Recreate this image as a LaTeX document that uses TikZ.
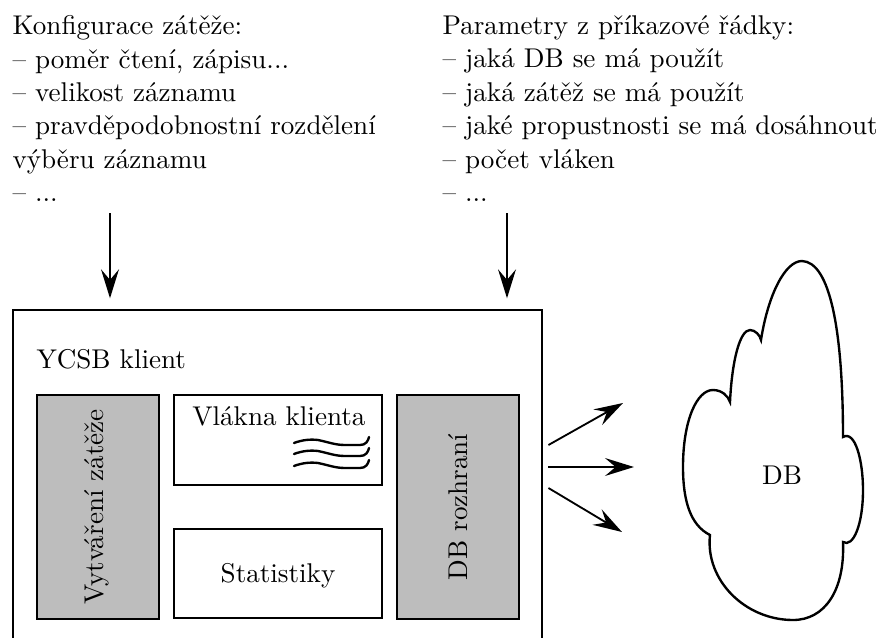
\documentclass[tikz,border=0pt]{standalone}
\usepackage{fontspec}
\usetikzlibrary{arrows.meta,fit}
\begin{document}
\begin{tikzpicture}[x=0.38pt,y=-0.38pt,
  txt/.style={font=\fontsize{10.3}{12.7}\selectfont},
  blk/.style={txt,align=left,inner sep=0pt,anchor=north west},
  box/.style={draw,line width=0.9pt,inner sep=0pt},
  graybox/.style={box,fill=black!26},
  arr/.style={line width=0.7pt,-{Stealth[length=11pt,width=6.8pt,inset=4pt]}},
  thread/.style={line width=0.9pt,line cap=round}]
\useasboundingbox (0,0) rectangle (877,637);
\clip (0,0) rectangle (877,637);
% text blocks
\node[blk] (cfg) at (12,15) {Konfigurace zátěže:\\– poměr čtení, zápisu...\\– velikost záznamu\\– pravděpodobnostní rozdělení\\výběru záznamu\\– ...};
\node[blk] (par) at (442,15) {Parametry z příkazové řádky:\\– jaká DB se má použít\\– jaká zátěž se má použít\\– jaké propustnosti se má dosáhnout\\– počet vláken\\– ...};
% client box
\node[box,fit={(13,310) (542,700)}] (client) {};
\node[txt,anchor=base west,inner sep=0pt] (ycsb) at (36,368) {YCSB klient};
\node[graybox,fit={(37,395) (159,619)}] (gen) {};
\node[txt,rotate=90] (genl) at ([xshift=-0.6pt]gen.center) {Vytváření zátěže};
\node[box,fit={(174,395) (382,485)}] (thr) {};
\node[txt,anchor=base east,inner sep=0pt] (thrl) at (366,425) {Vlákna klienta};
\node[box,fit={(174,529) (382,618)}] (stat) {};
\node[txt] (statl) at ([yshift=-1pt]stat.center) {Statistiky};
\node[graybox,fit={(397,395) (519,619)}] (dbi) {};
\node[txt,rotate=90] (dbil) at (dbi.center) {DB rozhraní};
% threads
\foreach \y in {443,454,466}{
  \draw[thread] (294,\y) .. controls (302,{\y-3}) and (310,{\y-4}) .. (318,{\y-3})
     .. controls (328,{\y-1}) and (335,{\y+2}) .. (345,{\y+2}) -- (360,{\y+2})
     .. controls (366,{\y+2}) and (368,{\y-2}) .. (369,{\y-6});
}
% cloud
\draw[line width=0.9pt] (761,340) .. controls (768,295) and (785,261) .. (802,261)
  .. controls (830,262) and (843,330) .. (843,437)
  .. controls (855,430) and (863,460) .. (863,490)
  .. controls (863,525) and (853,548) .. (843,542)
  .. controls (845,590) and (825,620) .. (793,620)
  .. controls (745,620) and (705,580) .. (710,535)
  .. controls (690,525) and (683,500) .. (683,467)
  .. controls (683,420) and (697,390) .. (713,390)
  .. controls (722,390) and (728,396) .. (730,402)
  .. controls (732,360) and (740,330) .. (750,330)
  .. controls (755,330) and (760,335) .. (761,340) -- cycle;
\node[txt] (db) at (782,475) {DB};
% arrows
\coordinate (a1) at (110,213);
\coordinate (a2) at (507,213);
\draw[arr,shorten >=4pt] (a1) -- (a1 |- client.north);
\draw[arr,shorten >=4pt] (a2) -- (a2 |- client.north);
\coordinate (t1) at (623,403);
\coordinate (t2) at (634,467);
\coordinate (t3) at (622,532);
\draw[arr] ([xshift=2pt]client.east |- 0,445) -- (t1);
\draw[arr] ([xshift=2pt]client.east |- 0,467) -- (t2);
\draw[arr] ([xshift=2pt]client.east |- 0,488) -- (t3);
\end{tikzpicture}
\end{document}
